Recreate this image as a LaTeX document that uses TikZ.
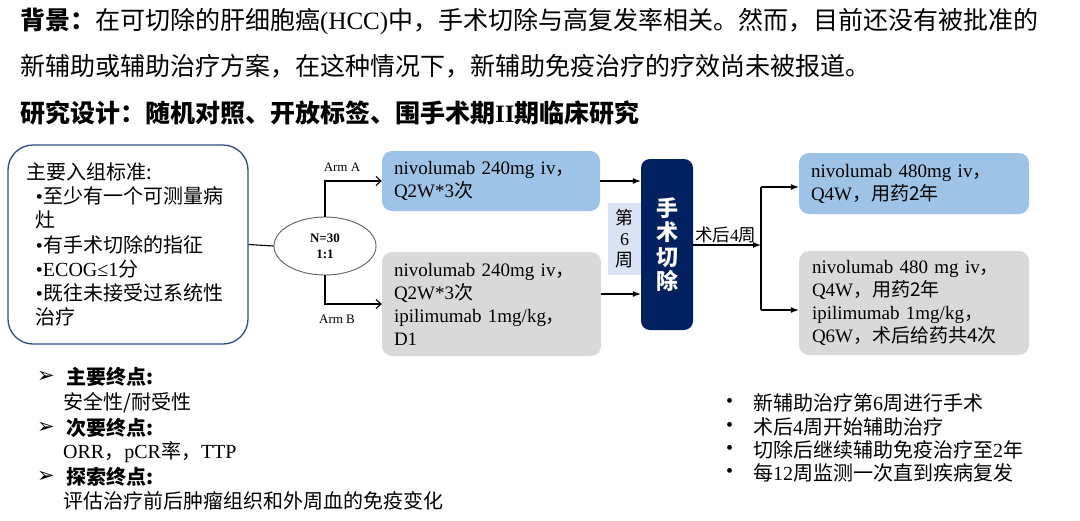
\documentclass[tikz,border=0pt]{standalone}
\usepackage{fontspec}
\setmainfont{Noto Sans CJK SC}
\newfontfamily\tnr{Liberation Serif}
\newfontfamily\dvs{DejaVu Sans}
\usetikzlibrary{shapes.geometric,arrows.meta}
\definecolor{boxblue}{HTML}{9DC3E6}
\definecolor{boxgray}{HTML}{D9D9D9}
\definecolor{navy}{HTML}{002060}
\definecolor{weekbg}{HTML}{DAE3F3}
\definecolor{framecol}{HTML}{2F4A80}
\newcommand\fsz[2]{\fontsize{#1}{#2}\selectfont}
\begin{document}
\begin{tikzpicture}[x=1pt,y=-1pt,
  line/.style={inner sep=0pt, anchor=west},
  toptxt/.style={line, font=\fsz{25}{28}},
  bodytxt/.style={line, font=\fsz{20}{24}},
  armbox/.style={rounded corners=10pt, inner xsep=12pt, inner ysep=0pt, align=left, font=\fsz{19}{23}},
  conn/.style={line width=1.1pt, draw=black},
  openarr/.style={conn, -{Straight Barb[length=5pt,width=9pt]}},
  fillarr/.style={conn, -{Latex[length=8pt,width=6pt]}},
  armlab/.style={inner sep=0pt, font=\tnr\fsz{13}{15}},
  tick/.style={line, font=\dvs\fsz{21}{22}}
]
\useasboundingbox (0,0) rectangle (1080,520);
\fill[white] (0,0) rectangle (1080,520);

% top text
\node[toptxt] (t1) at (20,21) {\textbf{背景：}在可切除的肝细胞癌{\tnr (HCC)}中，手术切除与高复发率相关。然而，目前还没有被批准的};
\node[toptxt] (t2) at (20,66) {新辅助或辅助治疗方案，在这种情况下，新辅助免疫治疗的疗效尚未被报道。};
\node[toptxt] (t3) at (20,113) {\textbf{研究设计：随机对照、开放标签、围手术期{\tnr II}期临床研究}};

% inclusion box
\node[draw=framecol, line width=1.3pt, rounded corners=25pt, minimum width=240pt, minimum height=199pt,
      text width=202pt, inner xsep=19pt, align=left, font=\fsz{20}{24.2}] (incl) at (128,244.5)
  {主要入组标准:\\
   \hspace*{9pt}{\tnr •}至少有一个可测量病\\
   \hspace*{9pt}灶\\
   \hspace*{9pt}{\tnr •}有手术切除的指征\\
   \hspace*{9pt}{\tnr •ECOG≤1}分\\
   \hspace*{9pt}{\tnr •}既往未接受过系统性\\
   \hspace*{9pt}治疗};

% randomisation ellipse
\node[ellipse, draw=gray!75!black, line width=0.9pt, minimum width=102pt, minimum height=58pt, inner sep=0pt,
      align=center, font=\tnr\bfseries\fsz{13}{16}] (ell) at (325,246) {N=30\\1:1};

% arm boxes
\node[armbox, fill=boxblue, minimum width=218pt, minimum height=60pt, text width=194pt] (armA) at (491,181)
  {{\tnr nivolumab 240mg iv}，\\{\tnr Q2W*3}次};
\node[armbox, fill=boxgray, minimum width=219pt, minimum height=104pt, text width=195pt] (armB) at (491.5,304)
  {{\tnr nivolumab 240mg iv}，\\{\tnr Q2W*3}次\\{\tnr ipilimumab 1mg/kg}，\\{\tnr D1}};

% week 6 and surgery
\node[fill=weekbg, minimum width=33pt, minimum height=72pt, inner sep=0pt, align=center, font=\fsz{18}{21}] (wk) at (624.5,239)
  {第\\{\tnr 6}\\周};
\node[fill=navy, rounded corners=9pt, minimum width=52pt, minimum height=171pt, inner sep=0pt, align=center,
      text=white, font=\bfseries\fsz{22}{24.5}] (surg) at (667,244.5)
  {手\\术\\切\\除};

% adjuvant boxes
\node[armbox, fill=boxblue, minimum width=230pt, minimum height=61pt, text width=206pt] (adjA) at (914,183.5)
  {{\tnr nivolumab 480mg iv}，\\{\tnr Q4W}，用药2年};
\node[armbox, fill=boxgray, minimum width=230pt, minimum height=104pt, text width=204pt, inner xsep=13pt] (adjB) at (914,303)
  {{\tnr nivolumab 480 mg iv}，\\{\tnr Q4W}，用药2年\\{\tnr ipilimumab 1mg/kg}，\\{\tnr Q6W}，术后给药共4次};

% connectors
\draw[conn] (incl.east) -- (ell.west);
\draw[openarr] (ell.north) |- (armA.west);
\draw[openarr] (ell.south) |- (armB.west);
\node[armlab] (labA) at (342,167) {Arm A};
\node[armlab] (labB) at (337,319) {Arm B};

\coordinate (sA) at (surg.west |- armA.east);
\coordinate (sB) at (surg.west |- 0,294);
\draw[fillarr] (armA.east) -- (sA);
\draw[fillarr] (armB.east |- sB) -- (sB);

\coordinate (split) at (761,245);
\coordinate (splitT) at (761,187);
\coordinate (splitB) at (761,310);
\draw[fillarr] (surg.east |- split) -- (split);
\node[inner sep=0pt, anchor=south west, font=\fsz{17.5}{20}] (post) at (695,243) {术后{\tnr 4}周};
\draw[conn] (splitT) -- (splitB);
\draw[fillarr] (splitT) -- (adjA.west |- splitT);
\draw[fillarr] (splitB) -- (adjB.west |- splitB);

% endpoints
\node[tick] (ar1) at (37,377) {➢};
\node[bodytxt] (e1) at (66,377) {\textbf{主要终点:}};
\node[bodytxt] (e1b) at (63,403) {安全性/耐受性};
\node[tick] (ar2) at (37,428) {➢};
\node[bodytxt] (e2) at (66,428) {\textbf{次要终点:}};
\node[bodytxt] (e2b) at (63,452) {{\tnr ORR}，{\tnr pCR}率，{\tnr TTP}};
\node[tick] (ar3) at (37,477) {➢};
\node[bodytxt] (e3) at (66,477) {\textbf{探索终点:}};
\node[bodytxt] (e3b) at (63,501) {评估治疗前后肿瘤组织和外周血的免疫变化};

% notes
\node[bodytxt] (b1) at (726,403) {{\tnr •}};
\node[bodytxt] (n1) at (753,403) {新辅助治疗第{\tnr 6}周进行手术};
\node[bodytxt] (b2) at (726,427) {{\tnr •}};
\node[bodytxt] (n2) at (753,427) {术后{\tnr 4}周开始辅助治疗};
\node[bodytxt] (b3) at (726,450) {{\tnr •}};
\node[bodytxt] (n3) at (753,450) {切除后继续辅助免疫治疗至{\tnr 2}年};
\node[bodytxt] (b4) at (726,473) {{\tnr •}};
\node[bodytxt] (n4) at (753,473) {每{\tnr 12}周监测一次直到疾病复发};
\end{tikzpicture}
\end{document}
